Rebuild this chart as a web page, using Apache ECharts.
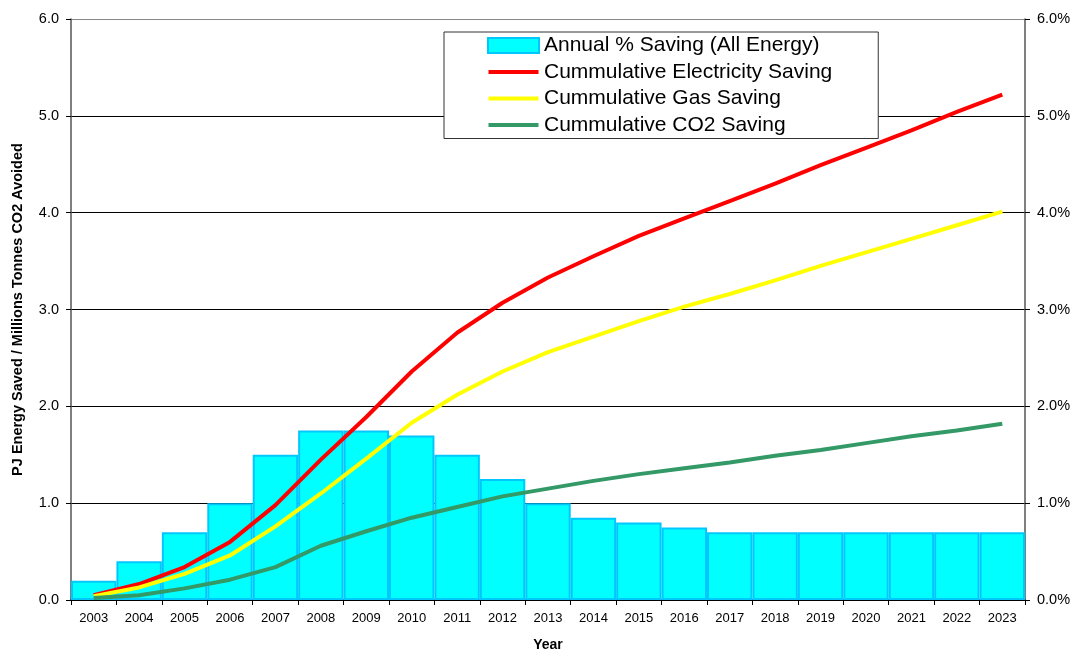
<!DOCTYPE html>
<html>
<head>
<meta charset="utf-8">
<script src="https://cdn.jsdelivr.net/npm/echarts@6/dist/echarts.min.js"></script>
<style>
  html, body { margin: 0; padding: 0; background: #fff; }
  #chart { width: 1083px; height: 653px; }
</style>
</head>
<body>
<div id="chart"></div>
<script>
// 年份
const years = ["2003","2004","2005","2006","2007","2008","2009","2010","2011","2012","2013",
  "2014","2015","2016","2017","2018","2019","2020","2021","2022","2023"];
// Annual % saving (right axis)
const annualPct = [0.2,0.4,0.7,1.0,1.5,1.75,1.75,1.7,1.5,1.25,1.0,0.85,0.8,0.75,0.7,0.7,0.7,0.7,0.7,0.7,0.7];
// cumulative savings (left axis)
const elecSaving = [0.05,0.165,0.34,0.6,0.98,1.45,1.89,2.36,2.76,3.07,3.33,3.55,3.76,3.94,4.12,4.30,4.49,4.67,4.85,5.04,5.22];
const gasSaving = [0.04,0.13,0.27,0.46,0.76,1.1,1.46,1.83,2.12,2.36,2.56,2.72,2.88,3.03,3.16,3.30,3.45,3.59,3.73,3.87,4.01];
const co2Saving = [0.02,0.05,0.12,0.21,0.34,0.56,0.71,0.85,0.96,1.07,1.15,1.23,1.30,1.36,1.42,1.49,1.55,1.62,1.69,1.75,1.82];

const font = "Arial, 'Liberation Sans', sans-serif";
// thin line icon for the legend (moveTo points keep the box height)
const lineIcon = "path://M0,0 M0,15 M0,5.5 L50,5.5 L50,9.5 L0,9.5 Z";

let myChart = echarts.init(document.getElementById("chart"));
let option = {
  animation: false,
  textStyle: { fontFamily: font },
  grid: {
    left: 71,
    right: 58,
    top: 19,
    bottom: 53,
    containLabel: false,
    outerBoundsMode: "none"
  },
  legend: {
    orient: "vertical",
    left: 444,
    top: 32,
    padding: [3, 46, 3, 43],
    itemWidth: 51,
    itemHeight: 15,
    itemGap: 5.5,
    backgroundColor: "#fff",
    borderColor: "#333",
    borderWidth: 1,
    textStyle: { fontSize: 21, color: "#000", fontFamily: font },
    data: [
      { name: "Annual % Saving (All Energy)", icon: "rect" },
      { name: "Cummulative Electricity Saving", icon: lineIcon },
      { name: "Cummulative Gas Saving", icon: lineIcon },
      { name: "Cummulative CO2 Saving", icon: lineIcon }
    ]
  },
  xAxis: {
    type: "category",
    data: years,
    name: "Year",
    nameLocation: "middle",
    nameGap: 38,
    nameTextStyle: { fontWeight: "bold", fontSize: 14, color: "#000" },
    axisLine: { lineStyle: { color: "#000", width: 1.5 } },
    axisTick: { show: true, length: 5, lineStyle: { color: "#000" } },
    axisLabel: { fontSize: 13, color: "#000", margin: 12 }
  },
  yAxis: [
    {
      type: "value",
      min: 0,
      max: 6,
      interval: 1,
      name: "PJ Energy Saved / Millions Tonnes CO2 Avoided",
      nameLocation: "middle",
      nameGap: 46,
      nameTextStyle: { fontWeight: "bold", fontSize: 14.5, color: "#000" },
      axisLine: { show: true, lineStyle: { color: "#555", width: 1.5 } },
      axisTick: { show: true, length: 5, lineStyle: { color: "#000" } },
      axisLabel: {
        fontSize: 14.5,
        color: "#000",
        margin: 12,
        formatter: v => v.toFixed(1)
      },
      splitLine: {
        show: true,
        lineStyle: {
          // top line of the plot is grey
          color: ["#000", "#000", "#000", "#000", "#000", "#000", "#888"],
          width: 1
        }
      }
    },
    {
      type: "value",
      min: 0,
      max: 6,
      interval: 1,
      position: "right",
      axisLine: { show: true, lineStyle: { color: "#555", width: 1.5 } },
      axisTick: { show: true, length: 5, lineStyle: { color: "#000" } },
      axisLabel: {
        fontSize: 14.5,
        color: "#000",
        margin: 12,
        formatter: v => v.toFixed(1) + "%"
      },
      splitLine: { show: false }
    }
  ],
  series: [
    {
      name: "Annual % Saving (All Energy)",
      type: "bar",
      yAxisIndex: 1,
      barCategoryGap: "0%",
      itemStyle: {
        color: "#00FFFF",
        borderColor: "#00C8FF",
        borderWidth: 2
      },
      data: annualPct
    },
    {
      name: "Cummulative Electricity Saving",
      type: "line",
      symbol: "none",
      itemStyle: { color: "#FF0000" },
      lineStyle: { color: "#FF0000", width: 4 },
      data: elecSaving
    },
    {
      name: "Cummulative Gas Saving",
      type: "line",
      symbol: "none",
      itemStyle: { color: "#FFFF00" },
      lineStyle: { color: "#FFFF00", width: 4 },
      data: gasSaving
    },
    {
      name: "Cummulative CO2 Saving",
      type: "line",
      symbol: "none",
      itemStyle: { color: "#339966" },
      lineStyle: { color: "#339966", width: 4 },
      data: co2Saving
    }
  ]
};
myChart.setOption(option);
</script>
</body>
</html>
